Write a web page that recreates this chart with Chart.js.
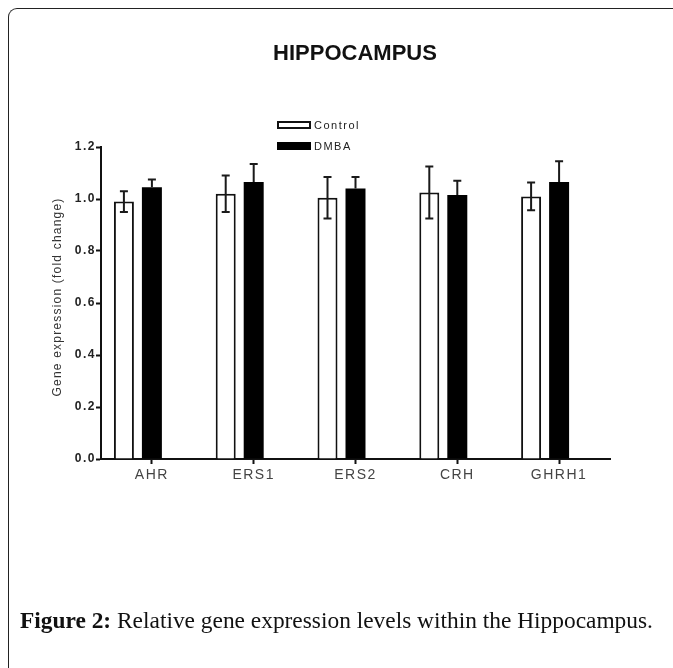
<!DOCTYPE html>
<html>
<head>
<meta charset="utf-8">
<script src="https://cdn.jsdelivr.net/npm/chart.js@4/dist/chart.umd.min.js"></script>
<style>
html,body{margin:0;padding:0;width:673px;height:668px;overflow:hidden;background:#fff;}
#frame{position:absolute;left:8px;top:8px;width:720px;height:720px;border-left:1.5px solid #222;border-top:1.5px solid #222;border-top-left-radius:9px;box-sizing:border-box;}
#c{position:absolute;left:0;top:0;}
#title{position:absolute;left:0;width:710px;top:42px;text-align:center;font:bold 22px 'Liberation Sans',Arial,sans-serif;color:#111;line-height:22px;}
.lg{position:absolute;left:277px;font:11px 'Liberation Sans',Arial,sans-serif;color:#222;letter-spacing:1.5px;}
.lg .box{position:absolute;left:0;width:34px;box-sizing:border-box;}
.lg .txt{position:absolute;left:37px;white-space:nowrap;line-height:12px;}
#caption{position:absolute;left:20px;top:606px;font:23.4px 'Liberation Serif','Times New Roman',serif;color:#111;white-space:nowrap;line-height:28px;}
</style>
</head>
<body>
<div id="frame"></div>
<canvas id="c" width="673" height="668"></canvas>
<div id="title">HIPPOCAMPUS</div>
<div id="legend"></div>
<div id="caption"><b>Figure 2:</b> Relative gene expression levels within the Hippocampus.</div>
<script>
const categories = ['AHR', 'ERS1', 'ERS2', 'CRH', 'GHRH1'];
const controlValues = [0.99, 1.02, 1.005, 1.025, 1.01];
const controlErrors = [0.04, 0.07, 0.08, 0.10, 0.053];
const dmbaValues = [1.045, 1.065, 1.04, 1.015, 1.065];
const dmbaErrors = [0.03, 0.07, 0.045, 0.055, 0.08];
const yTicks = [0, 0.2, 0.4, 0.6, 0.8, 1.0, 1.2];
const yTitle = 'Gene expression (fold change)';
const seriesNames = ['Control', 'DMBA'];

const errorBars = {
  id: 'errorBars',
  afterDatasetsDraw(chart) {
    const ctx = chart.ctx;
    const y = chart.scales.y;
    const errs = [controlErrors, dmbaErrors];
    ctx.save();
    ctx.strokeStyle = '#1a1a1a';
    ctx.lineWidth = 2;
    [0, 1].forEach(di => {
      const meta = chart.getDatasetMeta(di);
      const vals = chart.data.datasets[di].data;
      meta.data.forEach((bar, i) => {
        const v = vals[i], e = errs[di][i];
        const x = bar.x;
        const yt = y.getPixelForValue(v + e);
        const yv = y.getPixelForValue(v);
        const yb = y.getPixelForValue(v - e);
        ctx.beginPath();
        ctx.moveTo(x - 4, yt); ctx.lineTo(x + 4, yt);
        if (di === 0) {
          ctx.moveTo(x, yt); ctx.lineTo(x, yb);
          ctx.moveTo(x - 4, yb); ctx.lineTo(x + 4, yb);
        } else {
          ctx.moveTo(x, yt); ctx.lineTo(x, yv);
        }
        ctx.stroke();
      });
    });
    ctx.restore();
  }
};

const spacingPlugin = {
  id: 'spacing',
  beforeDraw(chart) { chart.ctx.letterSpacing = '1.5px'; },
  afterDraw(chart) {
    const ctx = chart.ctx;
    ctx.save();
    ctx.letterSpacing = '1.2px';
    ctx.translate(58, 297);
    ctx.rotate(-Math.PI / 2);
    ctx.font = '12px "Liberation Sans", Arial, sans-serif';
    ctx.fillStyle = '#333';
    ctx.textAlign = 'center';
    ctx.textBaseline = 'middle';
    ctx.fillText(yTitle, 0, 0);
    ctx.restore();
    ctx.letterSpacing = '0px';
  }
};

const chart = new Chart(document.getElementById('c'), {
  type: 'bar',
  data: {
    labels: categories,
    datasets: [
      { label: seriesNames[0], data: controlValues, backgroundColor: '#ffffff', borderColor: '#111', borderWidth: 2 },
      { label: seriesNames[1], data: dmbaValues, backgroundColor: '#000000', borderColor: '#000', borderWidth: 0 },
      { label: '', data: categories.map(() => null), backgroundColor: 'rgba(0,0,0,0)' }
    ]
  },
  options: {
    responsive: false,
    animation: false,
    events: [],
    categoryPercentage: 0.825,
    barPercentage: 0.714,
    layout: { padding: { top: 147, right: 63, bottom: 0, left: 0 } },
    plugins: { legend: { display: false }, tooltip: { enabled: false }, title: { display: false } },
    scales: {
      x: {
        grid: { display: true, drawOnChartArea: false, offset: false, tickLength: 5, tickWidth: 2, tickColor: '#111' },
        border: { display: true, color: '#111', width: 2 },
        ticks: { color: '#444', font: { family: "'Liberation Sans', Arial, sans-serif", size: 14 }, padding: 3, maxRotation: 0, autoSkip: false },
        afterFit(s) { s.height = 209; }
      },
      y: {
        min: 0, max: 1.2,
        afterBuildTicks(s) { s.ticks = yTicks.map(v => ({ value: v })); },
        grid: { display: true, drawOnChartArea: false, tickLength: 5, tickWidth: 2, tickColor: '#111' },
        border: { display: true, color: '#111', width: 2 },
        ticks: { color: '#222', font: { family: "'Liberation Sans', Arial, sans-serif", size: 12, weight: 'bold' }, padding: 0, callback: v => Number(v).toFixed(1) },
        afterFit(s) { s.width = 101; }
      }
    }
  },
  plugins: [errorBars, spacingPlugin]
});

// HTML legend built from datasets
const legend = document.getElementById('legend');
const legTops = [121, 142];
[0, 1].forEach(i => {
  const ds = chart.data.datasets[i];
  const item = document.createElement('div');
  item.className = 'lg';
  item.style.top = legTops[i] + 'px';
  const box = document.createElement('div');
  box.className = 'box';
  box.style.top = '0px';
  box.style.height = '8px';
  box.style.background = ds.backgroundColor;
  box.style.border = '2px solid ' + (ds.borderColor || '#000');
  const txt = document.createElement('div');
  txt.className = 'txt';
  txt.style.top = '-2px';
  txt.textContent = ds.label;
  item.appendChild(box); item.appendChild(txt);
  legend.appendChild(item);
});
</script>
</body>
</html>
